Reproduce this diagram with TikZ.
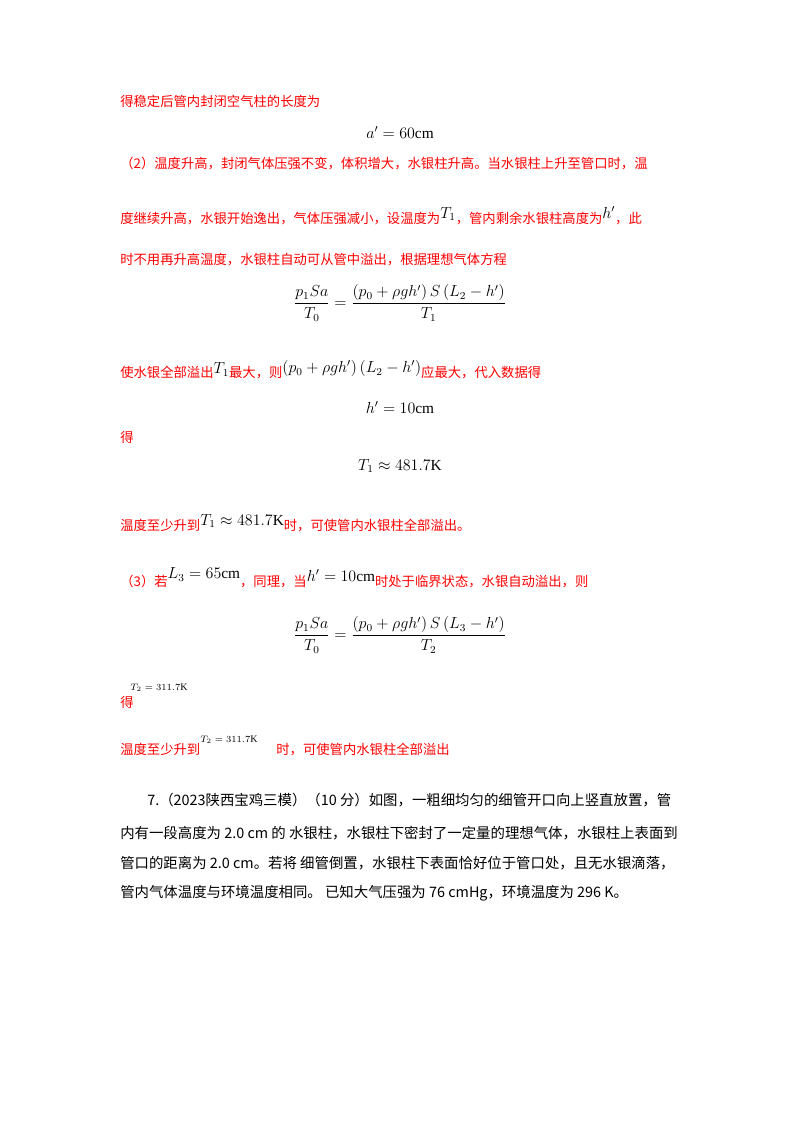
\documentclass[tikz,border=0pt]{standalone}
\usepackage{amsmath}
\usepackage{fontspec}
\setmainfont{Liberation Serif}
\newfontfamily\cjk{Noto Sans CJK SC}
\usetikzlibrary{positioning}
\definecolor{ansred}{RGB}{255,0,0}
\begin{document}
\begin{tikzpicture}[x=0.75pt,y=-0.75pt,
            every node/.style={inner sep=0pt, font=\fontsize{10pt}{12pt}\selectfont},
            rouge/.style={anchor=west, text=ansred, font=\fontsize{10pt}{12pt}\selectfont\cjk},
            noir/.style={anchor=west, text=black, font=\fontsize{10.8pt}{12pt}\selectfont\cjk},
            formule/.style={anchor=center, text=black, font=\fontsize{11.5pt}{13pt}\selectfont}]
            \useasboundingbox (0,0) rectangle (800,1132);
            \node[rouge]   (l1)  at (120,101) {得稳定后管内封闭空气柱的长度为};
            \node[formule] (f1)  at (400,133) {$a'=60\mathrm{cm}$};
            \node[rouge]   (l2)  at (120,164) {（2）温度升高，封闭气体压强不变，体积增大，水银柱升高。当水银柱上升至管口时，温};
            \node[rouge]   (l3)  at (120,216) {度继续升高，水银开始逸出，气体压强减小，设温度为\textcolor{black}{\raisebox{4pt}{\rmfamily\fontsize{12pt}{13pt}\selectfont$T_1$}}，管内剩余水银柱高度为\textcolor{black}{\raisebox{4pt}{\rmfamily\fontsize{12pt}{13pt}\selectfont$h'$}}，此};
            \node[rouge]   (l4)  at (120,260) {时不用再升高温度，水银柱自动可从管中溢出，根据理想气体方程};
            \node[formule] (f2)  at (400,303) {$\dfrac{p_1Sa}{T_0}=\dfrac{\left(p_0+\rho gh'\right)S\left(L_2-h'\right)}{T_1}$};
            \node[rouge]   (l5)  at (120,370) {使水银全部溢出\textcolor{black}{\raisebox{3pt}{\rmfamily\fontsize{12pt}{13pt}\selectfont$T_1$}}最大，则\textcolor{black}{\raisebox{4pt}{\rmfamily\fontsize{11.5pt}{13pt}\selectfont$\left(p_0+\rho gh'\right)\left(L_2-h'\right)$}}应最大，代入数据得};
            \node[formule] (f3)  at (400,408) {$h'=10\mathrm{cm}$};
            \node[rouge]   (l6)  at (120,437) {得};
            \node[formule] (f4)  at (400,466) {$T_1\approx 481.7\mathrm{K}$};
            \node[rouge]   (l7)  at (120,523) {温度至少升到\textcolor{black}{\raisebox{4pt}{\rmfamily\fontsize{11.5pt}{13pt}\selectfont$T_1\approx 481.7\mathrm{K}$}}时，可使管内水银柱全部溢出。};
            \node[rouge]   (l8)  at (120,578) {（3）若\textcolor{black}{\raisebox{6pt}{\rmfamily\fontsize{11.5pt}{13pt}\selectfont$L_3=65\mathrm{cm}$}}，同理，当\textcolor{black}{\raisebox{4pt}{\rmfamily\fontsize{11.5pt}{13pt}\selectfont$h'=10\mathrm{cm}$}}时处于临界状态，水银自动溢出，则};
            \node[formule] (f5)  at (400,635) {$\dfrac{p_1Sa}{T_0}=\dfrac{\left(p_0+\rho gh'\right)S\left(L_3-h'\right)}{T_2}$};
            \node[formule, anchor=west, font=\fontsize{7.5pt}{8pt}\selectfont] (f6) at (130,688) {$T_2=311.7\mathrm{K}$};
            \node[rouge]   (l9)  at (120,702) {得};
            \node[rouge]   (l10) at (120,746) {温度至少升到\textcolor{black}{\raisebox{9pt}{\rmfamily\fontsize{7.5pt}{8pt}\selectfont$T_2=311.7\mathrm{K}$}}\hspace{14pt}时，可使管内水银柱全部溢出};
            % question 7
            \node[noir] (p1) at (147,800) {7.（2023陕西宝鸡三模）（10 分）如图，一粗细均匀的细管开口向上竖直放置，管};
            \node[noir] (p2) at (120,833) {内有一段高度为 2.0 cm 的 水银柱，水银柱下密封了一定量的理想气体，水银柱上表面到};
            \node[noir] (p3) at (120,863) {管口的距离为 2.0 cm。若将 细管倒置，水银柱下表面恰好位于管口处，且无水银滴落，};
            \node[noir] (p4) at (120,893) {管内气体温度与环境温度相同。 已知大气压强为 76 cmHg，环境温度为 296 K。};
\end{tikzpicture}
\end{document}
